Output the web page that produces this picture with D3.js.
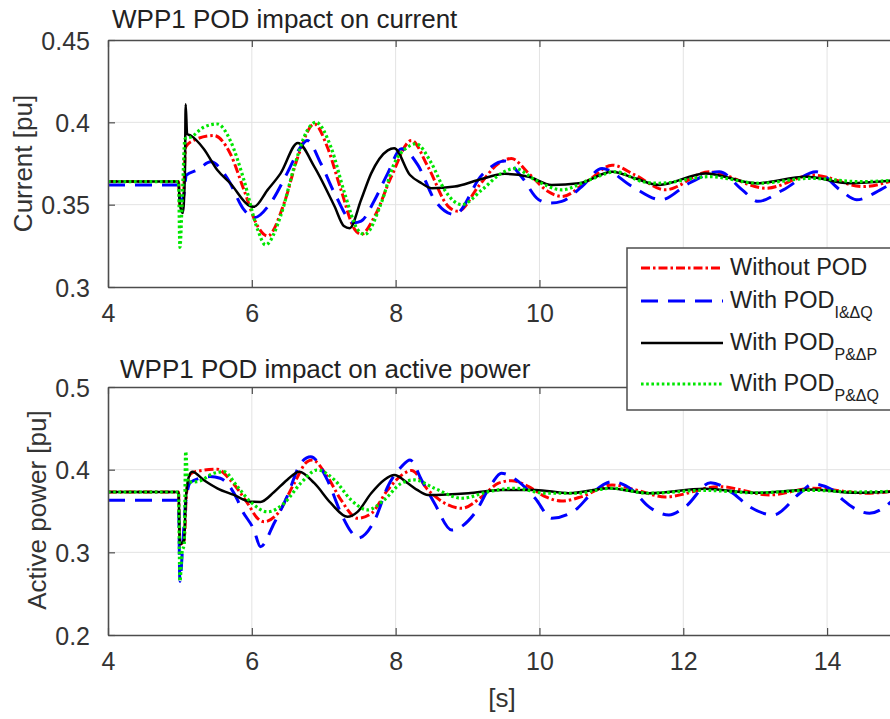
<!DOCTYPE html>
<html>
<head>
<meta charset="utf-8">
<script src="https://cdn.jsdelivr.net/npm/d3@7"></script>
<style>
  body { margin: 0; background: #fff; }
  svg { display: block; font-family: "Liberation Sans", Arial, sans-serif; }
</style>
</head>
<body>
<svg id="chart" width="890" height="719"></svg>
<script>
// ---- data -------------------------------------------------------------
const timeTicks = [4, 6, 8, 10, 12, 14];
const currentTicks = [0.3, 0.35, 0.4, 0.45];
const powerTicks = [0.2, 0.3, 0.4, 0.5];

const seriesLabels = ["Without POD", "With POD", "With POD", "With POD"];
const seriesSubscripts = ["", "I&ΔQ", "P&ΔP", "P&ΔQ"];

// Current [pu] vs time [s]
const currentWithout = [[4,0.364],[4.98,0.364],[5.0,0.35],[5.04,0.348],[5.08,0.385],[5.19,0.389],[5.47,0.392],[5.70,0.381],[5.89,0.359],[6.08,0.337],[6.22,0.331],[6.45,0.351],[6.64,0.379],[6.87,0.399],[7.05,0.385],[7.24,0.359],[7.43,0.335],[7.52,0.332],[7.71,0.343],[7.94,0.367],[8.22,0.389],[8.45,0.373],[8.73,0.349],[8.87,0.346],[9.15,0.361],[9.43,0.375],[9.61,0.378],[9.85,0.369],[10.12,0.358],[10.31,0.355],[10.69,0.365],[11.01,0.374],[11.33,0.368],[11.75,0.359],[12.36,0.370],[13.15,0.360],[13.80,0.368],[14.50,0.361],[15.0,0.366]];
const currentIdQ = [[4,0.362],[4.98,0.362],[5.0,0.352],[5.05,0.355],[5.09,0.368],[5.24,0.371],[5.43,0.376],[5.66,0.366],[5.89,0.347],[6.03,0.342],[6.26,0.351],[6.49,0.369],[6.68,0.385],[6.77,0.389],[6.96,0.375],[7.15,0.357],[7.42,0.339],[7.52,0.340],[7.71,0.353],[7.89,0.369],[8.08,0.384],[8.31,0.374],[8.54,0.353],[8.82,0.344],[9.20,0.368],[9.52,0.3765],[9.75,0.367],[9.99,0.353],[10.15,0.351],[10.31,0.352],[10.59,0.361],[10.87,0.372],[11.29,0.361],[11.69,0.353],[12.08,0.363],[12.50,0.370],[12.82,0.359],[13.04,0.352],[13.39,0.359],[13.85,0.370],[14.18,0.359],[14.41,0.353],[14.74,0.359],[15.0,0.366]];
const currentPdP = [[4,0.364],[4.98,0.364],[5.0,0.35],[5.04,0.345],[5.07,0.37],[5.08,0.411],[5.1,0.393],[5.15,0.392],[5.33,0.384],[5.52,0.371],[5.70,0.363],[5.98,0.349],[6.03,0.3487],[6.22,0.359],[6.40,0.369],[6.64,0.3875],[6.87,0.373],[7.15,0.349],[7.28,0.337],[7.36,0.3357],[7.52,0.353],[7.66,0.369],[7.89,0.383],[7.98,0.3843],[8.2,0.368],[8.36,0.363],[8.50,0.36],[8.82,0.361],[9.15,0.365],[9.52,0.3687],[9.85,0.367],[10.17,0.362],[10.55,0.363],[11.01,0.370],[11.33,0.366],[11.66,0.362],[12.31,0.369],[13.01,0.363],[13.71,0.367],[14.31,0.363],[15.0,0.365]];
const currentPdQ = [[4,0.364],[4.98,0.364],[5.0,0.324],[5.03,0.35],[5.07,0.39],[5.15,0.391],[5.33,0.397],[5.52,0.399],[5.70,0.389],[5.89,0.365],[6.08,0.335],[6.19,0.3256],[6.40,0.343],[6.59,0.373],[6.77,0.395],[6.89,0.400],[7.10,0.385],[7.29,0.357],[7.47,0.335],[7.57,0.332],[7.80,0.351],[7.98,0.375],[8.17,0.385],[8.28,0.387],[8.50,0.375],[8.68,0.359],[8.92,0.35],[9.20,0.359],[9.47,0.369],[9.66,0.372],[9.94,0.365],[10.31,0.359],[10.69,0.365],[11.06,0.370],[11.43,0.364],[11.66,0.363],[12.36,0.367],[13.06,0.363],[13.76,0.366],[14.45,0.364],[15.0,0.365]];

// Active power [pu] vs time [s]
const powerWithout = [[4,0.373],[4.98,0.373],[5.0,0.31],[5.06,0.315],[5.09,0.37],[5.15,0.395],[5.24,0.398],[5.52,0.4005],[5.70,0.3876],[5.94,0.3594],[6.08,0.3412],[6.17,0.337],[6.36,0.347],[6.59,0.3836],[6.77,0.4097],[6.84,0.4117],[7.05,0.3916],[7.24,0.3634],[7.47,0.3412],[7.66,0.347],[7.89,0.3755],[8.12,0.3956],[8.22,0.399],[8.45,0.3755],[8.73,0.3573],[8.92,0.3533],[9.20,0.3674],[9.43,0.3836],[9.61,0.3867],[9.85,0.3795],[10.08,0.3674],[10.31,0.362],[10.59,0.3674],[11.01,0.3815],[11.34,0.3755],[11.75,0.367],[12.50,0.3795],[13.20,0.3694],[13.80,0.3775],[14.55,0.3715],[15.0,0.375]];
const powerIdQ = [[4,0.363],[4.98,0.363],[5.0,0.265],[5.04,0.31],[5.08,0.36],[5.15,0.385],[5.42,0.3916],[5.56,0.3896],[5.80,0.3634],[5.85,0.3533],[6.03,0.327],[6.12,0.3069],[6.31,0.3352],[6.49,0.3674],[6.68,0.4077],[6.82,0.4157],[7.05,0.3876],[7.24,0.3473],[7.38,0.325],[7.47,0.317],[7.71,0.3392],[7.89,0.3795],[8.08,0.4036],[8.2,0.4117],[8.36,0.3876],[8.54,0.3594],[8.78,0.327],[9.10,0.3473],[9.34,0.3836],[9.47,0.3956],[9.71,0.3855],[9.94,0.3654],[10.17,0.3412],[10.50,0.3513],[10.73,0.3715],[11.01,0.3855],[11.29,0.3755],[11.52,0.3553],[11.80,0.3452],[12.03,0.3553],[12.38,0.3843],[12.69,0.3715],[12.92,0.3553],[13.25,0.3452],[13.62,0.3715],[13.80,0.3827],[14.08,0.3755],[14.22,0.3634],[14.59,0.3473],[14.92,0.3634],[15.0,0.37]];
const powerPdP = [[4,0.373],[4.98,0.373],[5.0,0.31],[5.06,0.315],[5.08,0.36],[5.12,0.39],[5.17,0.3976],[5.33,0.3876],[5.52,0.3775],[5.75,0.3694],[5.98,0.3613],[6.12,0.361],[6.31,0.373],[6.49,0.3876],[6.66,0.3976],[6.87,0.3836],[7.10,0.3594],[7.33,0.343],[7.47,0.349],[7.66,0.3715],[7.84,0.3876],[7.98,0.3936],[8.17,0.3836],[8.30,0.3755],[8.45,0.3694],[9.01,0.3715],[9.47,0.3755],[9.94,0.3755],[10.41,0.3715],[10.96,0.3775],[11.52,0.3715],[12.3,0.377],[13.0,0.372],[13.8,0.376],[14.4,0.372],[15.0,0.374]];
const powerPdQ = [[4,0.373],[4.98,0.373],[5.0,0.265],[5.03,0.30],[5.06,0.31],[5.08,0.422],[5.11,0.385],[5.24,0.3855],[5.47,0.3956],[5.61,0.3976],[5.80,0.3795],[5.98,0.3613],[6.22,0.349],[6.45,0.3594],[6.68,0.3836],[6.91,0.3996],[7.15,0.3876],[7.38,0.3634],[7.61,0.3513],[7.84,0.3634],[8.08,0.3836],[8.26,0.3876],[8.54,0.3775],[8.92,0.3654],[9.29,0.3734],[9.66,0.3775],[10.08,0.3715],[10.50,0.3715],[11.01,0.3775],[11.52,0.3715],[12.3,0.375],[13.0,0.372],[13.8,0.375],[14.4,0.373],[15.0,0.374]];

// ---- styling ----------------------------------------------------------
const lineStyles = [
  { color: "#ff0000", dash: "9,3,2.5,3", width: 3 },
  { color: "#0000ff", dash: "17,10", width: 3 },
  { color: "#000000", dash: null, width: 2.5 },
  { color: "#00e600", dash: "2.6,2.6", width: 3.2 }
];
const axisColor = "#4d4d4d";
const gridColor = "#e3e3e3";
const textColor = "#333";

const svg = d3.select("#chart");
const plotLeft = 108, plotRight = 899;
const x = d3.scaleLinear().domain([4, 15]).range([plotLeft, plotRight]);

function drawPanel(p, idx) {
  const y = d3.scaleLinear().domain(p.yDomain).range([p.bottom, p.top]);
  const g = svg.append("g");

  // grid
  g.append("g").selectAll("line").data(timeTicks.slice(1)).join("line")
    .attr("x1", d => x(d)).attr("x2", d => x(d))
    .attr("y1", p.top).attr("y2", p.bottom)
    .attr("stroke", gridColor).attr("stroke-width", 1);
  g.append("g").selectAll("line").data(p.yTicks.slice(1, -1)).join("line")
    .attr("x1", plotLeft).attr("x2", plotRight)
    .attr("y1", d => y(d)).attr("y2", d => y(d))
    .attr("stroke", gridColor).attr("stroke-width", 1);

  // series
  const clipId = "clip" + idx;
  svg.append("clipPath").attr("id", clipId).append("rect")
    .attr("x", plotLeft).attr("y", p.top - 2)
    .attr("width", plotRight - plotLeft).attr("height", p.bottom - p.top + 4);
  const line = d3.line().x(d => x(d[0])).y(d => y(d[1])).curve(d3.curveMonotoneX);
  const lines = g.append("g").attr("clip-path", `url(#${clipId})`);
  p.series.forEach((s, i) => {
    const st = lineStyles[i];
    lines.append("path").datum(s)
      .attr("d", line).attr("fill", "none")
      .attr("stroke", st.color).attr("stroke-width", st.width)
      .attr("stroke-dasharray", st.dash)
      .attr("stroke-linejoin", "round");
  });

  // axes
  const fmt = d => String(+d.toFixed(2));
  // tick labels that sit under the legend box are left blank
  const xFmt = d => (d < p.xLabelLimit ? d3.format("d")(d) : "");
  const yAxis = g.append("g").attr("transform", `translate(${plotLeft},0)`)
    .call(d3.axisLeft(y).tickValues(p.yTicks).tickFormat(fmt).tickSizeInner(-7).tickSizeOuter(0).tickPadding(18));
  const xAxis = g.append("g").attr("transform", `translate(0,${p.bottom})`)
    .call(d3.axisBottom(x).tickValues(timeTicks).tickFormat(xFmt).tickSizeInner(-7).tickSizeOuter(0).tickPadding(17));
  const xTop = g.append("g").attr("transform", `translate(0,${p.top})`)
    .call(d3.axisTop(x).tickValues(timeTicks).tickFormat("").tickSizeInner(-7).tickSizeOuter(0));
  [yAxis, xAxis, xTop].forEach(a => {
    a.select(".domain").attr("stroke", axisColor).attr("stroke-width", 1.6);
    a.selectAll(".tick line").attr("stroke", axisColor).attr("stroke-width", 1.2);
    a.selectAll(".tick text").attr("fill", textColor).attr("font-size", 25)
      .attr("font-family", "Liberation Sans, Arial, sans-serif");
  });
  yAxis.selectAll(".tick text").attr("dy", "0.36em");

  // title
  g.append("text").attr("x", p.titleX).attr("y", p.titleY)
    .attr("font-size", 26).attr("fill", "#222").text(p.title);
  // y label
  g.append("text")
    .attr("transform", `translate(${p.ylabelX},${(p.top + p.bottom) / 2 + p.ylabelShift}) rotate(-90)`)
    .attr("text-anchor", "middle").attr("font-size", 26).attr("fill", textColor)
    .text(p.yLabel);
}

drawPanel({
  title: "WPP1 POD impact on current", titleX: 112, titleY: 28,
  yLabel: "Current [pu]", ylabelX: 32, ylabelShift: 0,
  yDomain: [0.3, 0.45], yTicks: currentTicks, top: 40, bottom: 287,
  xLabelLimit: 11,
  series: [currentWithout, currentIdQ, currentPdP, currentPdQ]
}, 0);

drawPanel({
  title: "WPP1 POD impact on active power", titleX: 120, titleY: 378,
  yLabel: "Active power [pu]", ylabelX: 46, ylabelShift: -1,
  yDomain: [0.2, 0.5], yTicks: powerTicks, top: 387, bottom: 635,
  xLabelLimit: 100,
  series: [powerWithout, powerIdQ, powerPdP, powerPdQ]
}, 1);

// x-axis label
svg.append("text").attr("x", 502).attr("y", 707).attr("text-anchor", "middle")
  .attr("font-size", 26).attr("fill", textColor).text("[s]");

// legend
const legend = svg.append("g");
legend.append("rect").attr("x", 627).attr("y", 248).attr("width", 300).attr("height", 162)
  .attr("fill", "#fff").attr("stroke", axisColor).attr("stroke-width", 1.5);
const rowY = [267, 300, 342, 383];
seriesLabels.forEach((lab, i) => {
  const st = lineStyles[i];
  const ry = rowY[i];
  legend.append("line").attr("x1", 641).attr("x2", 723).attr("y1", ry + 1).attr("y2", ry + 1)
    .attr("stroke", st.color).attr("stroke-width", st.width).attr("stroke-dasharray", st.dash);
  const t = legend.append("text").attr("x", 730).attr("y", ry + 8)
    .attr("font-size", 23.5).attr("fill", "#222");
  t.append("tspan").text(lab);
  if (seriesSubscripts[i]) {
    t.append("tspan").attr("font-size", 16).attr("dy", 10).text(seriesSubscripts[i]);
  }
});
</script>
</body>
</html>
